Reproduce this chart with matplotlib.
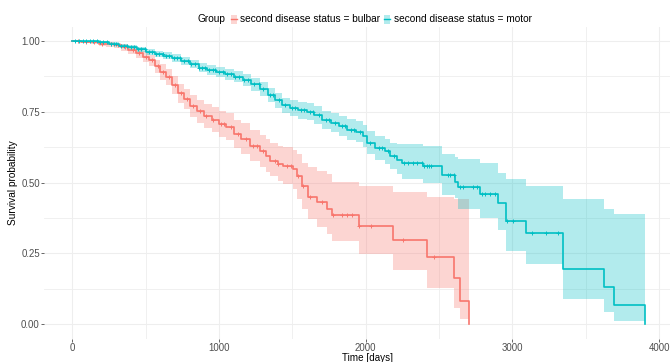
import numpy as np
import matplotlib
matplotlib.use("Agg")
import matplotlib.pyplot as plt
from matplotlib.patches import Rectangle
from matplotlib.lines import Line2D

# ---------------- data ----------------
groups = ["second disease status = bulbar", "second disease status = motor"]
colors = ["#F8766D", "#00BFC4"]

bulbar_time = [0, 60, 120, 180, 230, 280, 330, 380, 430, 480, 520, 560, 600, 640, 680,
               720, 760, 800, 850, 900, 950, 1000, 1050, 1100, 1150, 1210, 1278, 1320,
               1347, 1400, 1437, 1505, 1529, 1563, 1608, 1665, 1733, 1767, 1954, 2188,
               2417, 2601, 2642, 2701]
bulbar_surv = [1.000, 0.998, 0.995, 0.990, 0.988, 0.985, 0.978, 0.968, 0.958, 0.945, 0.932,
               0.910, 0.890, 0.872, 0.845, 0.815, 0.795, 0.770, 0.752, 0.735, 0.722, 0.708,
               0.698, 0.672, 0.655, 0.629, 0.611, 0.595, 0.576, 0.565, 0.558, 0.547, 0.523,
               0.488, 0.451, 0.432, 0.406, 0.385, 0.346, 0.299, 0.239, 0.163, 0.082, 0.000]
bulbar_lower = [1.000, 0.994, 0.989, 0.982, 0.979, 0.974, 0.965, 0.953, 0.941, 0.926, 0.911,
                0.886, 0.863, 0.843, 0.813, 0.781, 0.759, 0.732, 0.712, 0.693, 0.678, 0.662,
                0.650, 0.622, 0.600, 0.576, 0.555, 0.538, 0.523, 0.505, 0.494, 0.477, 0.442,
                0.406, 0.371, 0.342, 0.319, 0.295, 0.248, 0.190, 0.129, 0.059, 0.018, 0.018]
bulbar_upper = [1.000, 1.000, 1.000, 0.998, 0.996, 0.994, 0.989, 0.982, 0.974, 0.963, 0.952,
                0.934, 0.917, 0.901, 0.877, 0.849, 0.831, 0.808, 0.792, 0.777, 0.766, 0.754,
                0.746, 0.722, 0.710, 0.687, 0.668, 0.654, 0.640, 0.630, 0.625, 0.615, 0.600,
                0.570, 0.555, 0.540, 0.530, 0.504, 0.488, 0.468, 0.450, 0.442, 0.442, 0.442]
bulbar_censor = [40, 90, 150, 200, 260, 310, 360, 410, 455, 500, 540, 580, 620, 660, 700,
                 740, 780, 820, 870, 910, 960, 1010, 1030, 1080, 1130, 1180, 1230, 1260,
                 1300, 1380, 1400, 1460, 1490, 1535, 1575, 1620, 1700, 1778, 1835, 1869,
                 1903, 1956, 2035, 2253, 2462]

motor_time = [0, 100, 180, 250, 320, 380, 440, 500, 560, 620, 680, 740, 800, 860, 920, 980,
              1040, 1100, 1160, 1220, 1280, 1330, 1380, 1430, 1480, 1540, 1600, 1650, 1700,
              1760, 1820, 1870, 1930, 1983, 2006, 2060, 2131, 2165, 2210, 2244, 2392, 2517,
              2608, 2631, 2778, 2903, 2956, 3092, 3342, 3347, 3626, 3692, 3905]
motor_surv = [1.000, 0.999, 0.997, 0.990, 0.984, 0.978, 0.970, 0.962, 0.955, 0.948, 0.940,
              0.928, 0.918, 0.905, 0.897, 0.890, 0.882, 0.874, 0.862, 0.848, 0.830, 0.810,
              0.790, 0.773, 0.762, 0.755, 0.750, 0.738, 0.722, 0.712, 0.700, 0.687, 0.680,
              0.664, 0.641, 0.623, 0.610, 0.594, 0.580, 0.568, 0.559, 0.526, 0.504, 0.486,
              0.461, 0.428, 0.363, 0.322, 0.256, 0.196, 0.131, 0.069, 0.000]
motor_lower = [1.000, 0.997, 0.994, 0.985, 0.977, 0.970, 0.961, 0.952, 0.944, 0.936, 0.927,
               0.914, 0.903, 0.889, 0.880, 0.872, 0.863, 0.854, 0.840, 0.825, 0.806, 0.785,
               0.764, 0.746, 0.734, 0.726, 0.720, 0.707, 0.690, 0.679, 0.666, 0.651, 0.643,
               0.625, 0.600, 0.581, 0.566, 0.548, 0.532, 0.512, 0.500, 0.458, 0.447, 0.406,
               0.374, 0.333, 0.258, 0.213, 0.150, 0.088, 0.044, 0.013, 0.013]
motor_upper = [1.000, 1.000, 1.000, 0.995, 0.990, 0.986, 0.979, 0.972, 0.966, 0.960, 0.953,
               0.942, 0.933, 0.921, 0.914, 0.908, 0.901, 0.894, 0.884, 0.871, 0.854, 0.835,
               0.816, 0.800, 0.790, 0.784, 0.780, 0.769, 0.754, 0.745, 0.734, 0.723, 0.717,
               0.703, 0.682, 0.665, 0.654, 0.640, 0.636, 0.635, 0.629, 0.600, 0.590, 0.584,
               0.568, 0.533, 0.512, 0.488, 0.460, 0.442, 0.406, 0.389, 0.389]
motor_censor = [20, 45, 70, 95, 120, 140, 165, 190, 210, 235, 260, 285, 300, 330, 350, 375,
                400, 420, 450, 470, 495, 520, 545, 570, 590, 615, 640, 660, 690, 710, 735,
                760, 785, 810, 835, 860, 880, 905, 930, 955, 975, 1000, 1025, 1055, 1080,
                1110, 1135, 1170, 1200, 1240, 1270, 1300, 1345, 1370, 1410, 1450, 1500,
                1520, 1560, 1580, 1620, 1640, 1680, 1730, 1750, 1790, 1840, 1860, 1900,
                1920, 1960, 2030, 2090, 2110, 2150, 2190, 2260, 2290, 2320, 2350, 2380,
                2400, 2415, 2430, 2445, 2560, 2575, 2598, 2642, 2665, 2733, 2756, 2790,
                2813, 2847, 2881, 2960, 3003, 3131, 3226, 3308]

x_ticks = [0, 1000, 2000, 3000, 4000]
y_ticks = [0.00, 0.25, 0.50, 0.75, 1.00]
y_ticklabels = ["0.00", "0.25", "0.50", "0.75", "1.00"]
x_label = "Time [days]"
y_label = "Survival probability"
legend_title = "Group"

# ---------------- figure ----------------
plt.rcParams['font.family'] = ['Liberation Sans', 'DejaVu Sans']
W, H = 670, 362
fig = plt.figure(figsize=(W / 100, H / 100), dpi=100)
fig.patch.set_facecolor("white")

px_left, px_right, px_top, px_bottom = 44, 670, 26.8, 338.5
ax_w = px_right - px_left
ax_h = px_bottom - px_top
ax = fig.add_axes([px_left / W, (H - px_bottom) / H, ax_w / W, ax_h / H])
ax.set_xlim(-194, 4074)
ax.set_ylim(-0.05, 1.05)

for s in ax.spines.values():
    s.set_visible(False)

grid_c = "#EEEEEE"
ax.set_xticks(x_ticks)
ax.set_xticks([500, 1500, 2500, 3500], minor=True)
ax.set_yticks(y_ticks)
ax.set_yticklabels(y_ticklabels)
ax.set_yticks([0.125, 0.375, 0.625, 0.875], minor=True)
ax.grid(True, which="major", color=grid_c, lw=0.8)
ax.grid(True, which="minor", color=grid_c, lw=0.6)
ax.set_axisbelow(True)
ax.tick_params(which="major", length=2, width=0.6, color="#4D4D4D",
               labelcolor="#4D4D4D", labelsize=6.9, pad=1.0)
ax.tick_params(which="minor", length=0)

data = [
    (bulbar_time, bulbar_surv, bulbar_lower, bulbar_upper, bulbar_censor),
    (motor_time, motor_surv, motor_lower, motor_upper, motor_censor),
]
for (t, s, lo, up, cen), col in zip(data, colors):
    ax.fill_between(t, lo, up, step="post", color=col, alpha=0.3, lw=0)
for (t, s, lo, up, cen), col in zip(data, colors):
    t = np.asarray(t, float)
    s = np.asarray(s, float)
    ax.step(t, s, where="post", color=col, lw=1.2)
    cen = np.asarray(cen, float)
    idx = np.searchsorted(t, cen, side="right") - 1
    ax.plot(cen, s[idx], ls="none", marker="+", ms=2.8, mew=0.7, color=col)

ax.set_xlabel(x_label, fontsize=7.1)
ax.set_ylabel(y_label, fontsize=7.3)
ax.xaxis.set_label_coords((367 - px_left) / ax_w, -(352.6 - px_bottom) / ax_h)
ax.yaxis.set_label_coords((18.5 - px_left) / ax_w, 0.5)

# ---------------- legend (top) ----------------
def fx(p):
    return p / W

def fy(p):
    return 1 - p / H

ly = 19
fs_leg = 7.3
fig.text(fx(198), fy(ly), legend_title, fontsize=fs_leg, va="center", ha="left")
key_x = [230.5, 383.5]
text_x = [240, 394]
for kx, tx, col, lab in zip(key_x, text_x, colors, groups):
    fig.patches.append(Rectangle((fx(kx), fy(ly + 4.5)), 6.5 / W, 9 / H,
                                 transform=fig.transFigure, facecolor=col,
                                 alpha=0.3, lw=0))
    fig.lines.append(Line2D([fx(kx), fx(kx + 6.5)], [fy(ly), fy(ly)],
                            transform=fig.transFigure, color=col, lw=1.0))
    fig.text(fx(tx), fy(ly), lab, fontsize=fs_leg, va="center", ha="left")

fig.savefig("out.png", dpi=100, facecolor="white")
